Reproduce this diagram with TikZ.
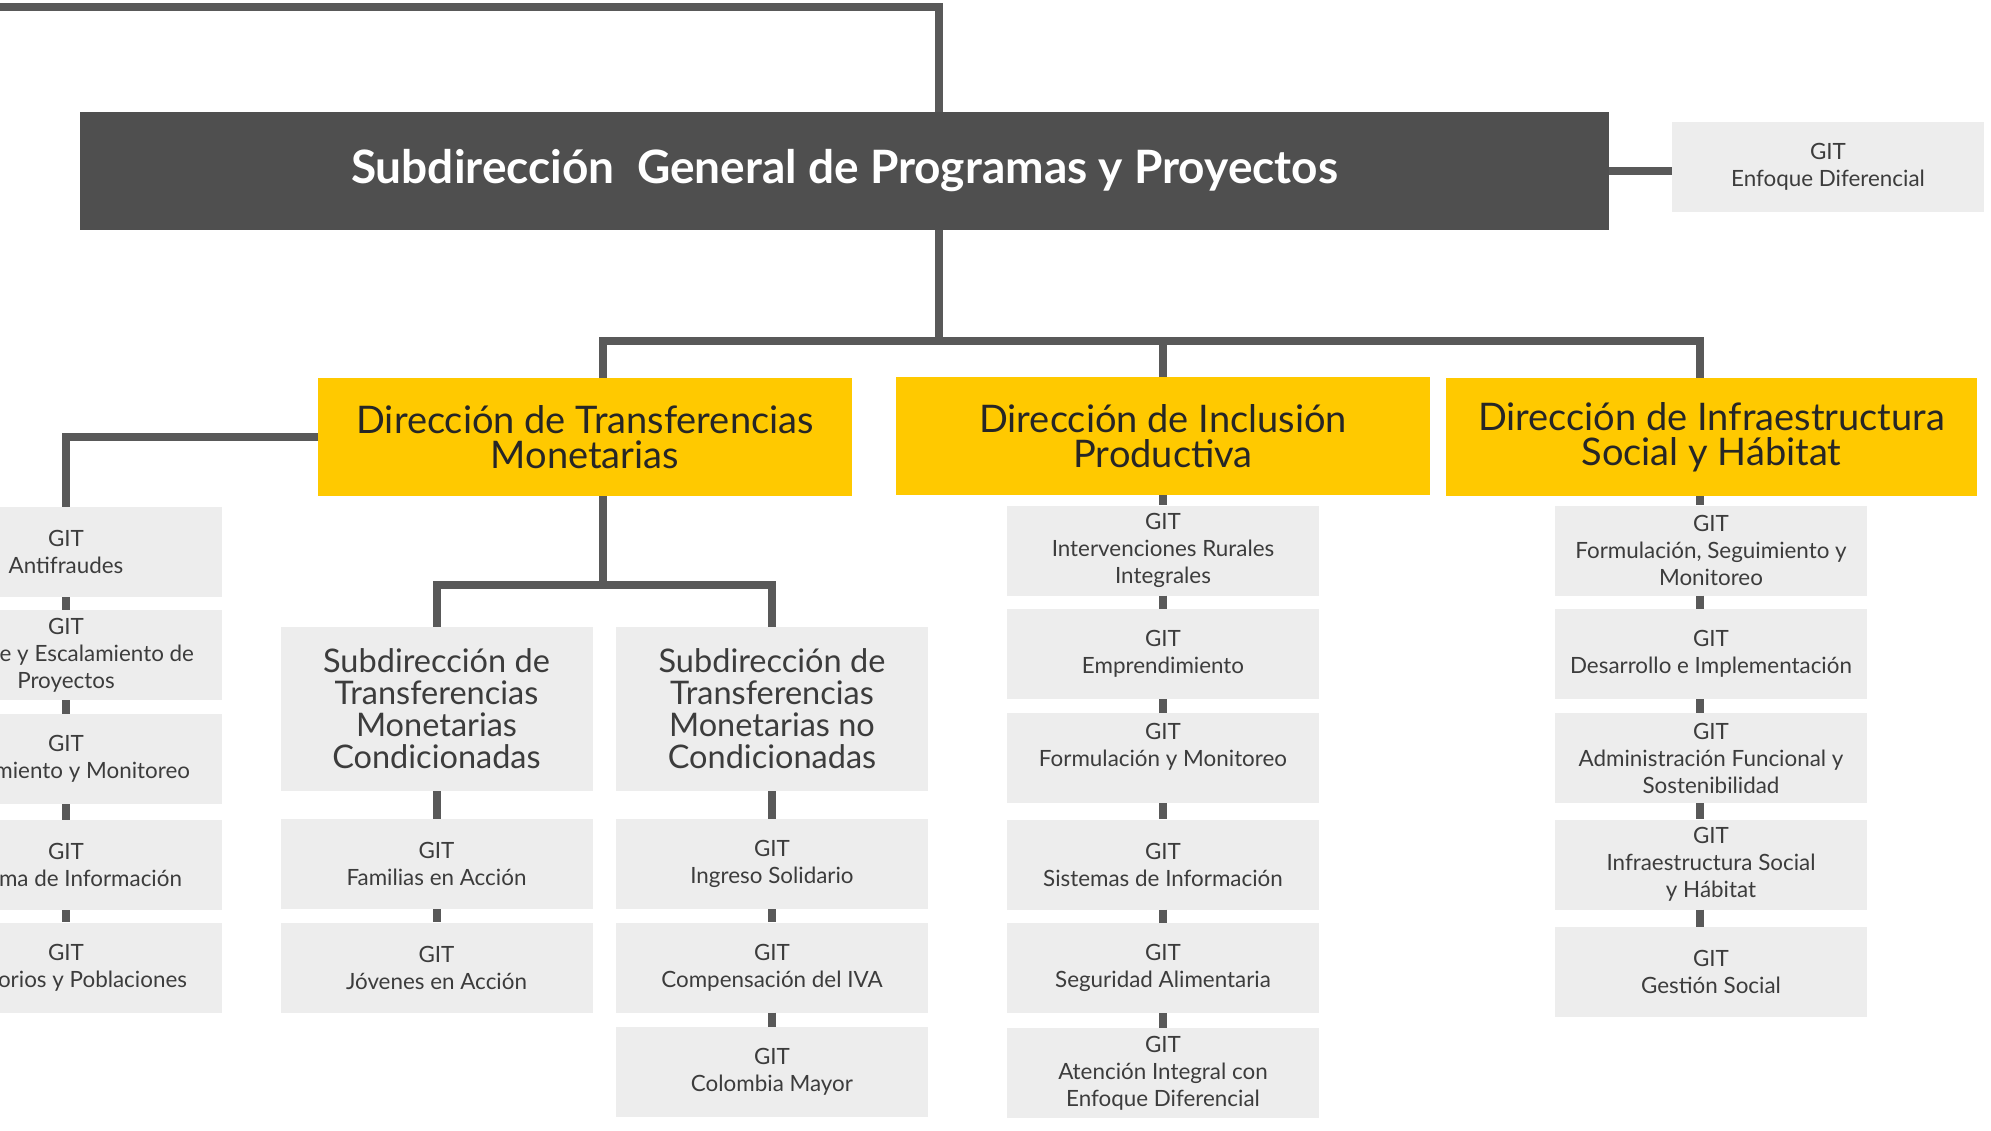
\documentclass[tikz,border=0pt]{standalone}
\usepackage{fontspec}
\setmainfont{Lato}
\usetikzlibrary{positioning}
\definecolor{titlegray}{HTML}{4F4F4F}
\definecolor{dirgold}{HTML}{FFC900}
\definecolor{gitgray}{HTML}{EDEDED}
\definecolor{linkgray}{HTML}{595959}
\definecolor{textgray}{HTML}{3C3C3C}

\begin{document}
\begin{tikzpicture}[x=1pt,y=-1pt,line join=miter,
  title/.style={fill=titlegray,text=white,minimum width=1529pt,minimum height=118pt,inner sep=0pt,font=\fontsize{46}{50}\selectfont\bfseries},
  dir/.style={fill=dirgold,text=black!85,minimum width=534pt,minimum height=118pt,inner sep=0pt,align=center,font=\fontsize{38}{35}\selectfont},
  sub/.style={fill=gitgray,text=textgray,minimum width=312pt,minimum height=164pt,inner sep=0pt,align=center,font=\fontsize{32.5}{32}\selectfont},
  git/.style={fill=gitgray,text=textgray,minimum width=312pt,minimum height=90pt,inner sep=0pt,align=center,font=\fontsize{22.4}{27}\selectfont},
  link/.style={draw=linkgray,line width=8pt},
]
\useasboundingbox (0,0) rectangle (1991,1131);
\clip (0,0) rectangle (1991,1131);
%%
\node (top) at (844.5,171) [title] {Subdirección~ General de Programas y Proyectos};
  \node (enf) at (1828,167) [git] {GIT\\Enfoque Diferencial};
  \node (dtm) at (585,437) [dir] {Dirección de Transferencias\\Monetarias};
  \node (dip) at (1163,436) [dir] {Dirección de Inclusión\\Productiva};
  \node (dis) at (1711.5,437) [dir,minimum width=531pt] {Dirección de Infraestructura\\Social y Hábitat};
%
  \node (af) at (66,552) [git] {GIT\\Antifraudes};
  \node (esc) at (66,655) [git] {GIT\\\makebox[256pt][r]{e y Escalamiento de}\\Proyectos};
  \node (sm) at (66,759) [git] {GIT\\\makebox[248pt][r]{miento y Monitoreo}};
  \node (si) at (66,865) [git] {GIT\\\makebox[232pt][r]{ma de Información}};
  \node (tp) at (66,967.5) [git] {GIT\\\makebox[242pt][r]{orios y Poblaciones}};
%
  \node (smc) at (436.5,709) [sub] {Subdirección de\\Transferencias\\Monetarias\\Condicionadas};
  \node (smnc) at (772,709) [sub] {Subdirección de\\Transferencias\\Monetarias no\\Condicionadas};
  \node (fa) at (436.5,864) [git] {GIT\\Familias en Acción};
  \node (ja) at (436.5,967.5) [git] {GIT\\Jóvenes en Acción};
  \node (is) at (772,864) [git] {GIT\\Ingreso Solidario};
  \node (iva) at (772,967.5) [git] {GIT\\Compensación del IVA};
  \node (cm) at (772,1072) [git] {GIT\\Colombia Mayor};
%
  \node (ir) at (1163,550.5) [git] {GIT\\Intervenciones Rurales\\Integrales};
  \node (em) at (1163,654) [git] {GIT\\Emprendimiento};
  \node (fm) at (1163,758) [git] {GIT\\Formulación y Monitoreo\\~};
  \node (sinf) at (1163,864.5) [git] {GIT\\Sistemas de Información};
  \node (sa) at (1163,968) [git] {GIT\\Seguridad Alimentaria};
  \node (ai) at (1163,1073) [git] {GIT\\Atención Integral con\\Enfoque Diferencial};
%
  \node (fs) at (1711,550.5) [git] {GIT\\Formulación, Seguimiento y\\Monitoreo};
  \node (dim) at (1711,654) [git] {GIT\\Desarrollo e Implementación};
  \node (afs) at (1711,758) [git] {GIT\\Administración Funcional y\\Sostenibilidad};
  \node (isoc) at (1711,864.5) [git] {GIT\\Infraestructura Social\\y Hábitat};
  \node (gs) at (1711,972) [git] {GIT\\Gestión Social};
%%
  \coordinate (topin) at (-10,7);
  \coordinate (hub) at (939,341);
  \coordinate (dtmx) at (603,341);
  \coordinate (dipx) at (1163,341);
  \coordinate (disx) at (1700,341);
  \coordinate (tmx) at (603,585);
  \draw [link] (topin) -- (hub |- topin) -- (hub |- top.north);
  \draw [link] (top.east) -- (top.east -| enf.west);
  \draw [link] (hub |- top.south) -- (hub);
  \draw [link] (dtmx |- dtm.north) -- (dtmx) -- (disx) -- (disx |- dis.north);
  \draw [link] (dipx) -- (dipx |- dip.north);
%
  \draw [link] (dtm.west) -- (dtm.west -| af.north) -- (af.north);
  \draw [link] (af.south) -- (esc.north);
  \draw [link] (esc.south) -- (sm.north);
  \draw [link] (sm.south) -- (si.north);
  \draw [link] (si.south) -- (tp.north);
%
  \draw [link] (tmx |- dtm.south) -- (tmx);
  \draw [link] (smc.north) -- (smc.north |- tmx) -- (smnc.north |- tmx) -- (smnc.north);
  \draw [link] (smc.south) -- (fa.north);
  \draw [link] (fa.south) -- (ja.north);
  \draw [link] (smnc.south) -- (is.north);
  \draw [link] (is.south) -- (iva.north);
  \draw [link] (iva.south) -- (cm.north);
%
  \draw [link] (dip.south) -- (ir.north);
  \draw [link] (ir.south) -- (em.north);
  \draw [link] (em.south) -- (fm.north);
  \draw [link] (fm.south) -- (sinf.north);
  \draw [link] (sinf.south) -- (sa.north);
  \draw [link] (sa.south) -- (ai.north);
%
  \draw [link] (disx |- dis.south) -- (disx |- fs.north);
  \draw [link] (disx |- fs.south) -- (disx |- dim.north);
  \draw [link] (disx |- dim.south) -- (disx |- afs.north);
  \draw [link] (disx |- afs.south) -- (disx |- isoc.north);
  \draw [link] (disx |- isoc.south) -- (disx |- gs.north);
%
\end{tikzpicture}
\end{document}
